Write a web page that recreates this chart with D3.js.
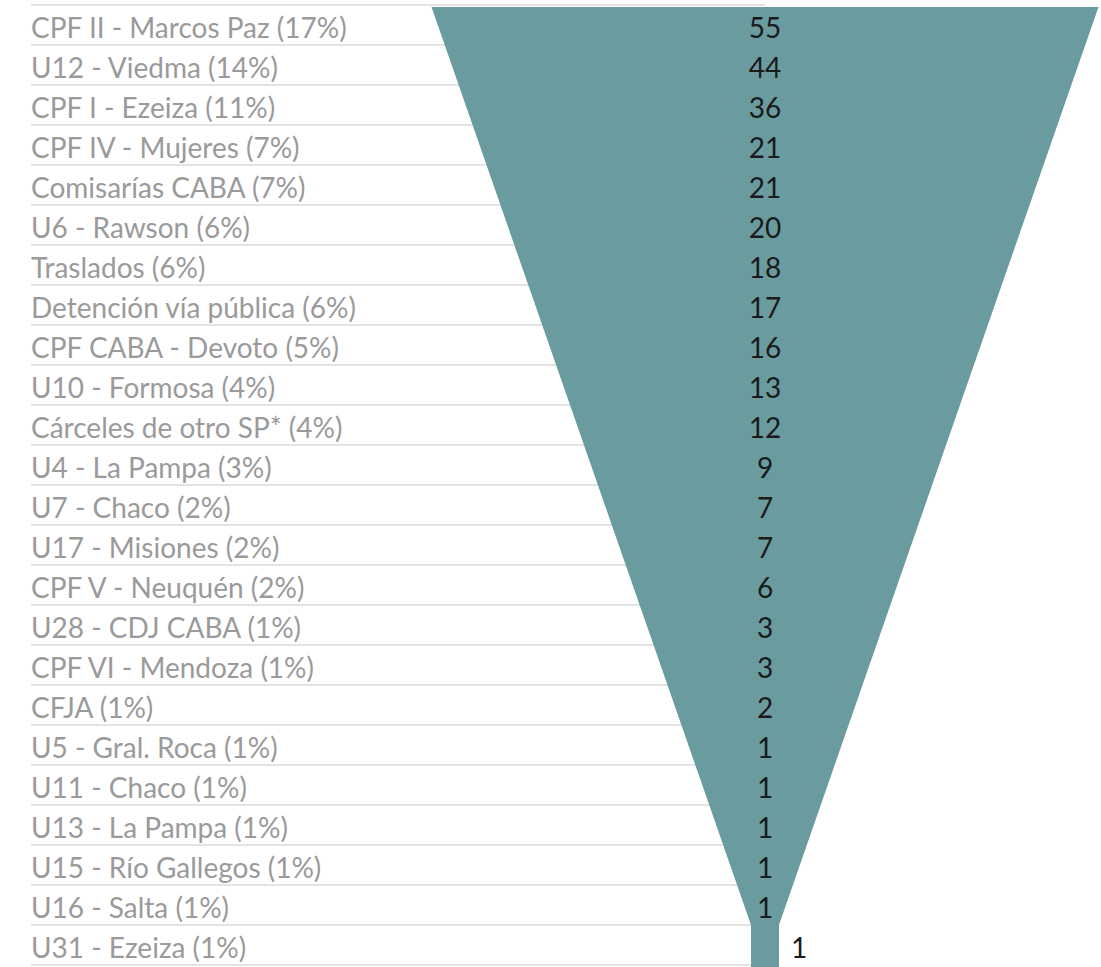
<!DOCTYPE html>
<html><head><meta charset="utf-8">
<script src="https://cdn.jsdelivr.net/npm/d3@7"></script>
<style>body{margin:0;background:#fff}svg{display:block}</style>
</head><body>
<script>
const categories = ["CPF II - Marcos Paz","U12 - Viedma","CPF I - Ezeiza","CPF IV - Mujeres","Comisarías CABA","U6 - Rawson","Traslados","Detención vía pública","CPF CABA - Devoto","U10 - Formosa","Cárceles de otro SP*","U4 - La Pampa","U7 - Chaco","U17 - Misiones","CPF V - Neuquén","U28 - CDJ CABA","CPF VI - Mendoza","CFJA","U5 - Gral. Roca","U11 - Chaco","U13 - La Pampa","U15 - Río Gallegos","U16 - Salta","U31 - Ezeiza"];
const percents = ["17%","14%","11%","7%","7%","6%","6%","6%","5%","4%","4%","3%","2%","2%","2%","1%","1%","1%","1%","1%","1%","1%","1%","1%"];
const values = [55,44,36,21,21,20,18,17,16,13,12,9,7,7,6,3,3,2,1,1,1,1,1,1];

const W = 1101, H = 967;
const svg = d3.select("body").append("svg").attr("width", W).attr("height", H);
const font = "Lato, 'Open Sans', sans-serif";

const y = d3.scaleBand().domain(categories).range([5, 965]).padding(0);
const cx = 765;
const neckHalf = 14;
const halfW = d3.scaleLinear().domain([0, d3.max(values)]).range([0, 333.5]);

// separators
const lines = [y.range()[0]].concat(categories.map(c => y(c) + y.bandwidth()));
svg.append("g").selectAll("line").data(lines).join("line")
  .attr("x1", 31).attr("x2", cx).attr("y1", d => d).attr("y2", d => d)
  .attr("stroke", "#e3e3e3").attr("stroke-width", 2);

// funnel body
const last = categories[categories.length - 1];
const topY = y(categories[0]) + 2;
const neckY = y(last);
const pts = [
  [cx - halfW(d3.max(values)), topY],
  [cx + halfW(d3.max(values)), topY],
  [cx + neckHalf, neckY],
  [cx + neckHalf, H],
  [cx - neckHalf, H],
  [cx - neckHalf, neckY]
];
svg.append("path").attr("d", d3.line()(pts) + "Z").attr("fill", "#6a9c9f");

// labels
svg.append("g").selectAll("text").data(categories).join("text")
  .attr("x", 31).attr("y", d => y(d) + y.bandwidth() / 2 + 3)
  .attr("dy", "0.35em")
  .attr("font-family", font).attr("font-size", 28).attr("fill", "#9a9a9a")
  .text((d, i) => `${d} (${percents[i]})`);

// values
svg.append("g").selectAll("text").data(values).join("text")
  .attr("x", (d, i) => i === values.length - 1 ? cx + neckHalf + 12 : cx)
  .attr("y", (d, i) => y(categories[i]) + y.bandwidth() / 2 + 3)
  .attr("dy", "0.35em")
  .attr("text-anchor", (d, i) => i === values.length - 1 ? "start" : "middle")
  .attr("font-family", font).attr("font-size", 28).attr("fill", "#1a1a1a")
  .text(d => d);
</script>
</body></html>
